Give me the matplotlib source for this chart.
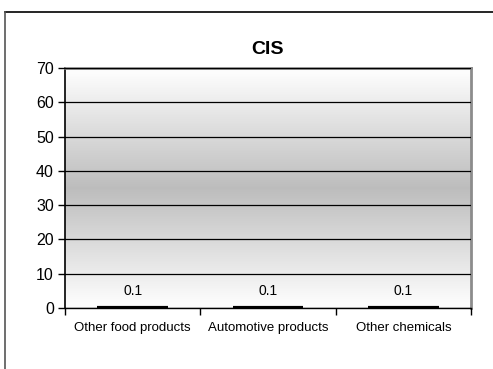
import matplotlib.pyplot as plt
import numpy as np
from matplotlib.lines import Line2D

categorias = ["Other food products", "Automotive products", "Other chemicals"]
valores = [0.1, 0.1, 0.1]
etiquetas = ["0.1", "0.1", "0.1"]

plt.rcParams["font.family"] = ["Liberation Sans Narrow", "Liberation Sans", "DejaVu Sans"]

fig = plt.figure(figsize=(4.93, 3.69), dpi=100)
ax = fig.add_axes([65 / 493, 1 - 308 / 369, 406 / 493, 240 / 369])

# fondo degradado: blanco arriba, gris al centro, claro abajo
t = np.linspace(0, 1, 256)
tono = 0.74 + 0.26 * np.abs(t - 0.5) * 2
tono = np.clip(tono, 0, 0.99)
fondo = np.dstack([tono, tono, tono]).reshape(256, 1, 3)
ax.imshow(fondo, extent=[0, 3, 0, 70], aspect="auto", origin="lower", zorder=0)

x = np.arange(len(categorias)) + 0.5
ax.bar(x, valores, width=0.52, color="black", edgecolor="black", linewidth=3, zorder=3)
for xi, v, txt in zip(x, valores, etiquetas):
    ax.text(xi, v + 2.8, txt, ha="center", va="bottom", fontsize=10, zorder=4)

ax.set_xlim(0, 3)
ax.set_ylim(0, 70)
ax.set_yticks(range(0, 71, 10))
ax.yaxis.grid(True, color="black", linewidth=0.9, zorder=1)
ax.set_axisbelow(False)
for linea in ax.get_ygridlines():
    linea.set_zorder(1)

# etiquetas centradas en cada categoría, marcas en los límites
ax.set_xticks(x)
ax.set_xticklabels(categorias, fontsize=9.5)
ax.tick_params(axis="x", which="major", length=0, pad=10)
ax.set_xticks([0, 1, 2, 3], minor=True)
ax.tick_params(axis="x", which="minor", length=5, direction="out", width=1)
ax.tick_params(axis="y", length=5, direction="out", width=1, labelsize=11.5, pad=3)

ax.spines["left"].set_color("black")
ax.spines["left"].set_linewidth(1.2)
ax.spines["bottom"].set_color("black")
ax.spines["bottom"].set_linewidth(1)
ax.spines["top"].set_color("#8c8c8c")
ax.spines["top"].set_linewidth(2)
ax.spines["right"].set_color("#8c8c8c")
ax.spines["right"].set_linewidth(2)

ax.set_title("CIS", fontsize=14, fontweight="bold", pad=10)

# marco exterior del gráfico (solo arriba e izquierda visibles)
fig.add_artist(Line2D([5 / 493, 1.0], [1 - 12 / 369, 1 - 12 / 369], color="black", linewidth=1.2))
fig.add_artist(Line2D([5 / 493, 5 / 493], [0, 1 - 12 / 369], color="#555555", linewidth=1.2))

fig.savefig("out.png", dpi=100)
